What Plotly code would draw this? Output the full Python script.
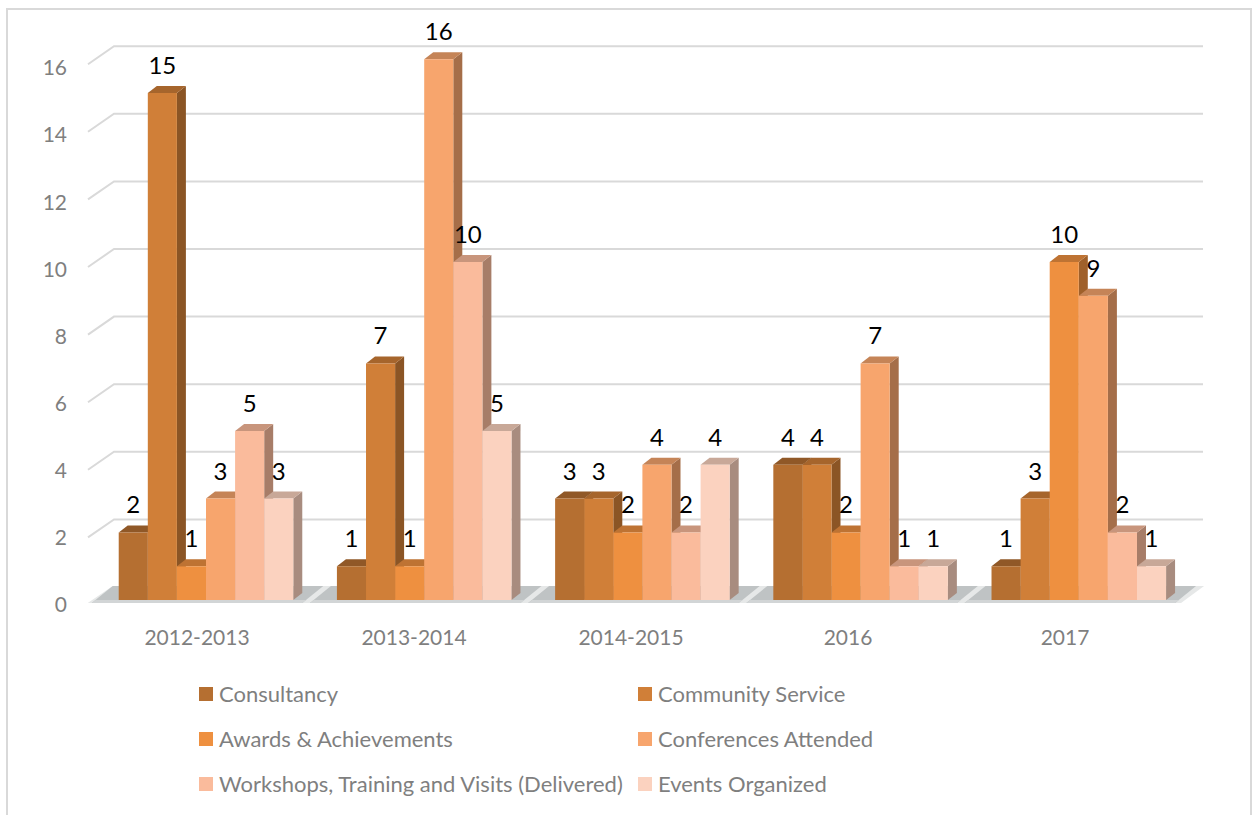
"""
plot.py
Faux-3D clustered column chart: real bars for the front faces, shapes for depth.
"""

import plotly.graph_objects as go

# ==========================================================
# Data
# ==========================================================

periods = ["2012-2013", "2013-2014", "2014-2015", "2016", "2017"]

consultancy = [2, 1, 3, 4, 1]
community_service = [15, 7, 3, 4, 3]
awards = [1, 1, 2, 2, 10]
conferences = [3, 16, 4, 7, 9]
workshops = [5, 10, 2, 1, 2]
events = [3, 5, 4, 1, 1]

series_names = [
    "Consultancy",
    "Community Service",
    "Awards & Achievements",
    "Conferences Attended",
    "Workshops, Training and Visits (Delivered)",
    "Events Organized",
]
series_values = [consultancy, community_service, awards, conferences, workshops, events]
y_ticks = [0, 2, 4, 6, 8, 10, 12, 14, 16]

# ==========================================================
# Style and layout constants (pixels on the 1252x815 page)
# ==========================================================

colors = ["#b56f31", "#d07f38", "#ee9040", "#f7a56d", "#fabb9c", "#fbd2bf"]
FONT = "Lato"
GREY = "#7f7f7f"
GRID = "#d9d9d9"

WIDTH, HEIGHT = 1252, 815
M_L, M_R, M_T, M_B = 80, 37, 15, 203

X0_PX, X_UNIT = 206, 218.2    # pixel of first group centre, pixels per group
Y0_PX, Y_UNIT = 600, 33.8     # pixel of value 0, pixels per value unit
BAR_W = 0.8 / 6
DEPTH_X, DEPTH_Y = 9 / X_UNIT, 7 / Y_UNIT


def dx(px):
    return px / X_UNIT


def dy(px):
    return px / Y_UNIT


def paper_x(px):
    return (px - M_L) / (WIDTH - M_L - M_R)


def paper_y(py):
    return 1 - (py - M_T) / (HEIGHT - M_T - M_B)


def shade(hex_color, factor):
    r, g, b = (int(hex_color[i:i + 2], 16) for i in (1, 3, 5))
    return "#%02x%02x%02x" % (int(r * factor), int(g * factor), int(b * factor))


def poly(points, color):
    path = "M " + " L ".join(f"{x:.4f},{y:.4f}" for x, y in points) + " Z"
    return dict(type="path", path=path, xref="x", yref="y", layer="below",
                fillcolor=color, line=dict(width=0))


def bar_left(group, s):
    return group - 0.4 + s * BAR_W


# ==========================================================
# Back wall, floor and bar depth
# ==========================================================

shapes = []

# outer frame, open at the bottom
shapes.append(dict(
    type="path", xref="paper", yref="paper", layer="below",
    path=(f"M {paper_x(7)},{paper_y(815)} L {paper_x(7)},{paper_y(9)} "
          f"L {paper_x(1251)},{paper_y(9)} L {paper_x(1251)},{paper_y(815)}"),
    line=dict(color=GRID, width=2),
))

# gridlines run diagonally from the axis to the back wall, then along it
x_front = dx(88 - X0_PX)
x_back = dx(114 - X0_PX)
x_end = dx(1203 - X0_PX)
for tick in y_ticks[1:]:
    y_f = tick - dy(5)
    y_b = tick + dy(13)
    shapes.append(dict(
        type="path", xref="x", yref="y", layer="below",
        path=f"M {x_front},{y_f} L {x_back},{y_b} L {x_end},{y_b}",
        line=dict(color=GRID, width=2),
    ))

# floor: pale strip across the chart, darker shadow under each group
floor_left = bar_left(0, 0)
floor_right = bar_left(len(periods) - 1, 6)
shapes.append(poly([
    (floor_left - dx(31), -dy(3)),
    (floor_left - dx(6), dy(14)),
    (floor_right + dx(38), dy(14)),
    (floor_right + dx(15), -dy(3)),
], "#e6e8e8"))
for g in range(len(periods)):
    left = bar_left(g, 0)
    right = bar_left(g, 6)
    shapes.append(poly([
        (left - dx(27), -dy(3)),
        (left - dx(6), dy(14)),
        (right + dx(30), dy(14)),
        (right + dx(9), -dy(3)),
    ], "#bfc3c4"))
    shapes.append(poly([
        (left - dx(27), -dy(3)),
        (left - dx(23), 0),
        (right + dx(13), 0),
        (right + dx(9), -dy(3)),
    ], "#d2d5d6"))

# side and top faces, left to right so later bars overlap earlier ones
for g in range(len(periods)):
    for s, values in enumerate(series_values):
        v = values[g]
        x1 = bar_left(g, s)
        x2 = x1 + BAR_W
        shapes.append(poly([
            (x2, 0), (x2 + DEPTH_X, DEPTH_Y),
            (x2 + DEPTH_X, v + DEPTH_Y), (x2, v),
        ], shade(colors[s], 0.67)))
        shapes.append(poly([
            (x1, v), (x1 + DEPTH_X, v + DEPTH_Y),
            (x2 + DEPTH_X, v + DEPTH_Y), (x2, v),
        ], shade(colors[s], 0.8)))

# ==========================================================
# Legend, two columns and three rows
# ==========================================================

annotations = []
for s, name in enumerate(series_names):
    swatch_x = 199 if s % 2 == 0 else 638
    row_y = 694 + 45 * (s // 2)
    shapes.append(dict(
        type="rect", xref="paper", yref="paper", layer="below",
        x0=paper_x(swatch_x), x1=paper_x(swatch_x + 14),
        y0=paper_y(row_y - 7), y1=paper_y(row_y + 7),
        fillcolor=colors[s], line=dict(width=0),
    ))
    annotations.append(dict(
        text=name, xref="paper", yref="paper", showarrow=False,
        x=paper_x(swatch_x + 18), y=paper_y(row_y - 1),
        xanchor="left", yanchor="middle",
        font=dict(family=FONT, size=22, color=GREY),
    ))

# ==========================================================
# Traces
# ==========================================================

fig = go.Figure()

for s, values in enumerate(series_values):
    fig.add_trace(go.Bar(
        x=list(range(len(periods))),
        y=values,
        name=series_names[s],
        marker=dict(color=colors[s], line=dict(width=0)),
        showlegend=False,
    ))

# value labels float above the top face of each bar
for s, values in enumerate(series_values):
    fig.add_trace(go.Scatter(
        x=[bar_left(g, s) + BAR_W / 2 for g in range(len(periods))],
        y=[v + dy(25) for v in values],
        text=[str(v) for v in values],
        mode="text",
        textposition="middle center",
        textfont=dict(family=FONT, size=24, color="black"),
        showlegend=False,
        hoverinfo="skip",
    ))

# ==========================================================
# Layout
# ==========================================================

fig.update_layout(
    width=WIDTH,
    height=HEIGHT,
    margin=dict(l=M_L, r=M_R, t=M_T, b=M_B, autoexpand=False),
    paper_bgcolor="white",
    plot_bgcolor="rgba(0,0,0,0)",
    font=dict(family=FONT, color=GREY),
    barmode="group",
    bargap=0.2,
    bargroupgap=0,
    shapes=shapes,
    annotations=annotations,
    xaxis=dict(
        range=[(M_L - X0_PX) / X_UNIT, (WIDTH - M_R - X0_PX) / X_UNIT],
        # labels sit slightly left of their groups because of the 3D tilt
        tickvals=[g * 217 / X_UNIT - dx(9) for g in range(len(periods))],
        ticktext=periods,
        tickfont=dict(family=FONT, size=21, color=GREY),
        ticklabelstandoff=11,
        showgrid=False,
        zeroline=False,
        showline=False,
        ticks="",
    ),
    yaxis=dict(
        range=[(Y0_PX - (HEIGHT - M_B)) / Y_UNIT, (Y0_PX - M_T) / Y_UNIT],
        tickvals=[t * 0.993 - dy(5) for t in y_ticks],
        ticktext=[str(t) for t in y_ticks],
        tickfont=dict(family=FONT, size=21, color=GREY),
        ticklabelstandoff=12,
        showgrid=False,
        zeroline=False,
        showline=False,
        ticks="",
    ),
)

fig.write_html(
    "out.html",
    config=dict(displayModeBar=False),
    post_script="document.body.style.margin = '0';",
)
